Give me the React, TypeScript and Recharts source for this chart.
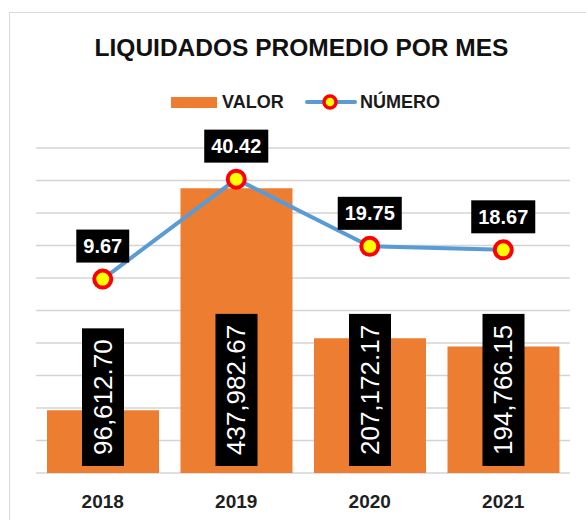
import React from 'react';
import { Bar, CartesianGrid, ComposedChart, LabelList, Line, XAxis, YAxis } from 'recharts';

const years = ['2018', '2019', '2020', '2021'];
const valor = [96612.7, 437982.67, 207172.17, 194766.15];
const numero = [9.67, 40.42, 19.75, 18.67];
const valorTicks = [0, 50000, 100000, 150000, 200000, 250000, 300000, 350000, 400000, 450000, 500000];
const numeroDomain = [-50, 50];

const data = years.map((year, i) => ({ year, valor: valor[i], numero: numero[i] }));

const FONT = '"Liberation Sans", Arial, sans-serif';
const ORANGE = '#ED7D31';
const BLUE = '#5B9BD5';

// rough Arial/Liberation widths, good enough for sizing the black boxes
const textWidth = (s: string, size: number) =>
  s.split('').reduce((w, c) => w + (c === ',' || c === '.' ? 0.278 : 0.556), 0) * size;

const fmtValor = (v: number) => v.toLocaleString('en-US', { minimumFractionDigits: 2, maximumFractionDigits: 2 });

const BarValueLabel = (props: any) => {
  const { x, y, width, height, value } = props;
  const s = fmtValor(Number(value));
  const boxH = textWidth(s, 26) + 22;
  const cx = Number(x) + Number(width) / 2;
  const bottom = Number(y) + Number(height) - 7;
  const cy = bottom - boxH / 2;
  return (
    <g>
      <rect x={cx - 21} y={bottom - boxH} width={42} height={boxH} fill="#000" />
      <text
        x={cx}
        y={cy}
        transform={`rotate(-90 ${cx} ${cy})`}
        textAnchor="middle"
        dominantBaseline="central"
        fill="#fff"
        fontSize={26}
        fontFamily={FONT}
      >
        {s}
      </text>
    </g>
  );
};

const LineValueLabel = (props: any) => {
  const { x, y, value } = props;
  const s = Number(value).toFixed(2);
  const boxW = textWidth(s, 20) + 14;
  const cx = Number(x);
  const cy = Number(y) - 33;
  return (
    <g>
      <rect x={cx - boxW / 2} y={cy - 16.5} width={boxW} height={33} fill="#000" />
      <text x={cx} y={cy} textAnchor="middle" dominantBaseline="central" fill="#fff" fontSize={20} fontWeight={700} fontFamily={FONT}>
        {s}
      </text>
    </g>
  );
};

export default function App() {
  return (
    <div style={{ position: 'fixed', left: 0, top: 0, width: 586, height: 520, overflow: 'hidden', background: '#fff' }}>
      <div style={{ position: 'absolute', left: 9, top: 12, width: 640, height: 600, border: '1px solid #d9d9d9' }} />
      <div
        style={{
          position: 'absolute', left: 0, top: 33, width: 603, height: 30, lineHeight: '30px', textAlign: 'center',
          fontFamily: FONT, fontSize: 24.5, fontWeight: 700, color: '#111',
        }}
      >
        LIQUIDADOS PROMEDIO POR MES
      </div>

      <div style={{ position: 'absolute', left: 171, top: 97, width: 46, height: 11, background: ORANGE }} />
      <div style={{ position: 'absolute', left: 222, top: 92, height: 20, lineHeight: '20px', fontFamily: FONT, fontSize: 18, fontWeight: 700, color: '#1a1a1a' }}>
        VALOR
      </div>
      <svg style={{ position: 'absolute', left: 300, top: 92 }} width={60} height={20}>
        <line x1={7} y1={10} x2={55} y2={10} stroke={BLUE} strokeWidth={4} strokeLinecap="round" />
        <circle cx={30} cy={10} r={6} fill="#FFFF00" stroke="#FF0000" strokeWidth={3.5} />
      </svg>
      <div style={{ position: 'absolute', left: 360, top: 92, height: 20, lineHeight: '20px', fontFamily: FONT, fontSize: 18, fontWeight: 700, color: '#1a1a1a' }}>
        NÚMERO
      </div>

      <div style={{ position: 'absolute', left: 0, top: 0 }}>
        <ComposedChart width={586} height={520} data={data} margin={{ top: 148, right: 16, bottom: 17, left: 36 }}>
          <CartesianGrid vertical={false} stroke="#d4d4d4" strokeWidth={1.3} yAxisId="valor" />
          <XAxis
            dataKey="year"
            axisLine={false}
            tickLine={false}
            height={30}
            tickMargin={16}
            tick={{ fill: '#1f1f1f', fontSize: 19, fontWeight: 700, fontFamily: FONT }}
          />
          <YAxis yAxisId="valor" hide domain={[0, 500000]} ticks={valorTicks} />
          <YAxis yAxisId="numero" hide orientation="right" domain={numeroDomain} />
          <Bar yAxisId="valor" dataKey="valor" fill={ORANGE} barSize={112} isAnimationActive={false}>
            <LabelList dataKey="valor" content={BarValueLabel} />
          </Bar>
          <Line
            yAxisId="numero"
            dataKey="numero"
            stroke={BLUE}
            strokeWidth={4}
            dot={{ r: 8.5, fill: '#FFFF00', stroke: '#FF0000', strokeWidth: 4 }}
            activeDot={false}
            isAnimationActive={false}
          >
            <LabelList dataKey="numero" content={LineValueLabel} />
          </Line>
        </ComposedChart>
      </div>
    </div>
  );
}
